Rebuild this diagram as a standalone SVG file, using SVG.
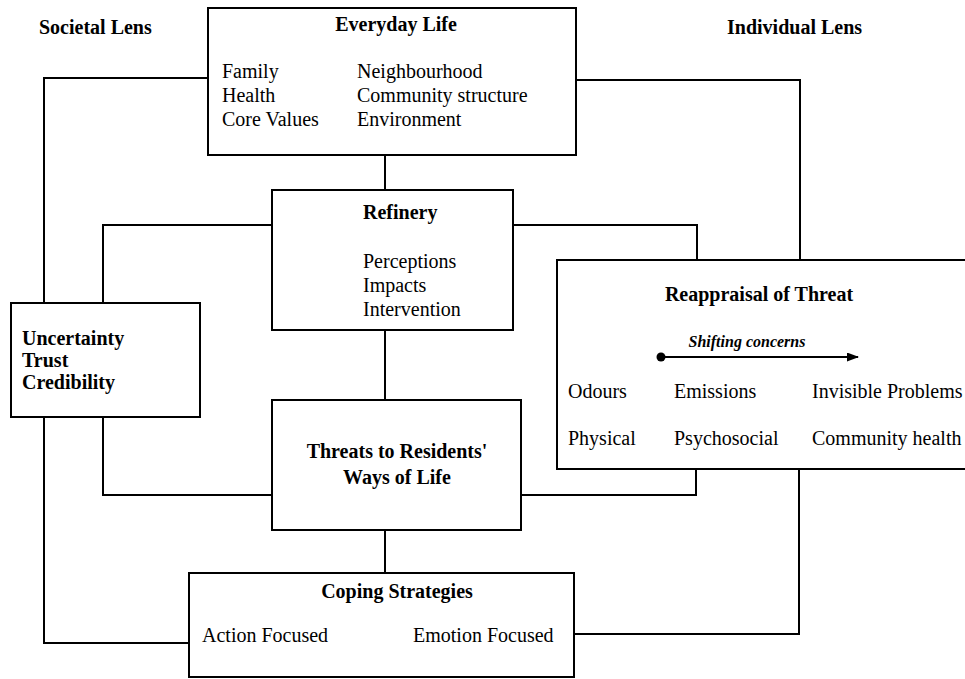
<svg xmlns="http://www.w3.org/2000/svg" width="965" height="679" viewBox="0 0 965 679">
<defs>
<style>
.box{fill:#fff;stroke:#000;stroke-width:2}
.ln{fill:none;stroke:#000;stroke-width:2}
text{font-family:"Liberation Serif","Times New Roman",serif;font-size:20px;fill:#000}
.b{font-weight:bold}
.c{text-anchor:middle}
.i{font-style:italic;font-weight:bold;font-size:16px}
</style>
<marker id="ah" markerWidth="12" markerHeight="9" refX="11" refY="4.5" orient="auto" markerUnits="userSpaceOnUse">
<path d="M0,0 L12,4.5 L0,9 Z" fill="#000"/>
</marker>
</defs>
<rect width="965" height="679" fill="#fff"/>
<g id="connectors">
<polyline class="ln" points="208,78 44,78 44,303"/>
<polyline class="ln" points="576,80 800,80 800,260"/>
<line class="ln" x1="385" y1="155" x2="385" y2="190"/>
<polyline class="ln" points="272,225 103,225 103,303"/>
<polyline class="ln" points="513,225 697,225 697,260"/>
<line class="ln" x1="385" y1="330" x2="385" y2="400"/>
<polyline class="ln" points="272,495 103,495 103,417"/>
<polyline class="ln" points="521,495 696,495 696,469"/>
<line class="ln" x1="385" y1="530" x2="385" y2="573"/>
<polyline class="ln" points="44,417 44,643 189,643"/>
<polyline class="ln" points="799,469 799,634 574,634"/>
</g>
<g id="lens-labels">
<text class="b" x="39" y="34">Societal Lens</text>
<text class="b" x="727" y="34">Individual Lens</text>
</g>
<g id="everyday-life">
<rect class="box" x="208" y="8" width="368" height="147"/>
<text class="b c" x="396" y="31">Everyday Life</text>
<text x="222" y="78">Family</text>
<text x="222" y="102">Health</text>
<text x="222" y="126">Core Values</text>
<text x="357" y="78">Neighbourhood</text>
<text x="357" y="102">Community structure</text>
<text x="357" y="126">Environment</text>
</g>
<g id="refinery">
<rect class="box" x="272" y="190" width="241" height="140"/>
<text class="b" x="363" y="219">Refinery</text>
<text x="363" y="268">Perceptions</text>
<text x="363" y="292">Impacts</text>
<text x="363" y="316">Intervention</text>
</g>
<g id="uncertainty">
<rect class="box" x="11" y="303" width="189" height="114"/>
<text class="b" x="22" y="345">Uncertainty</text>
<text class="b" x="22" y="367">Trust</text>
<text class="b" x="22" y="389">Credibility</text>
</g>
<g id="reappraisal">
<rect class="box" x="557" y="260" width="413" height="209"/>
<text class="b c" x="759" y="301">Reappraisal of Threat</text>
<text class="i c" x="747" y="347">Shifting concerns</text>
<line class="ln" x1="661" y1="357" x2="858" y2="357" marker-end="url(#ah)"/>
<circle cx="661" cy="357" r="4.5" fill="#000"/>
<text x="568" y="398">Odours</text>
<text x="674" y="398">Emissions</text>
<text x="812" y="398">Invisible Problems</text>
<text x="568" y="445">Physical</text>
<text x="674" y="445">Psychosocial</text>
<text x="812" y="445">Community health</text>
</g>
<g id="threats">
<rect class="box" x="272" y="400" width="249" height="130"/>
<text class="b c" x="397" y="458">Threats to Residents'</text>
<text class="b c" x="397" y="484">Ways of Life</text>
</g>
<g id="coping">
<rect class="box" x="189" y="573" width="385" height="104"/>
<text class="b c" x="397" y="598">Coping Strategies</text>
<text x="202" y="642">Action Focused</text>
<text x="413" y="642">Emotion Focused</text>
</g>
</svg>
